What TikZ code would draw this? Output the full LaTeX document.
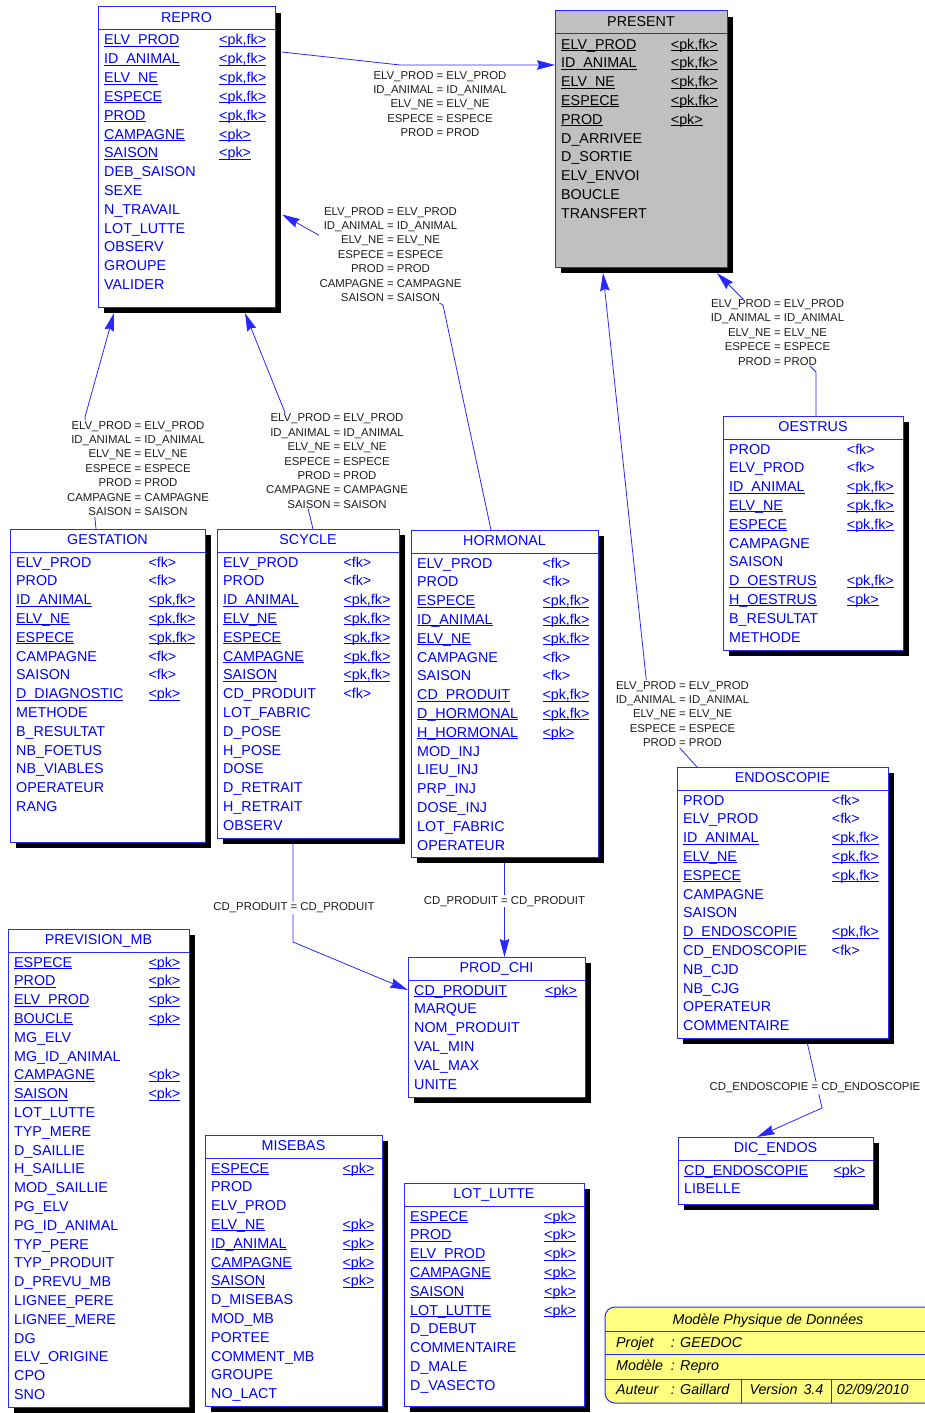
\documentclass[tikz,border=0pt]{standalone}
\usepackage{fontspec}
\setmainfont{Liberation Sans}
\usetikzlibrary{shadows,arrows.meta}

\definecolor{tblblue}{RGB}{0,0,255}
\definecolor{lineblue}{RGB}{40,40,255}
\definecolor{presentgray}{RGB}{192,192,192}
\definecolor{notefill}{RGB}{255,255,128}
\definecolor{lbltext}{RGB}{30,30,30}

\newcommand{\tblfont}{\fontsize{14.3}{18.8}\selectfont}
\newcommand{\lblfont}{\fontsize{11.4}{14.4}\selectfont}
\newcommand{\ulbox}[1]{\setbox0\hbox{#1}\rlap{\rule[-2pt]{\wd0}{1pt}}\box0}

\newcommand{\keypf}{\ulbox{<pk,fk>}}
\newcommand{\keyp}{\ulbox{<pk>}}
\newcommand{\keyf}{<fk>}
\newcommand{\keyn}{}
\newcommand{\nmpf}[1]{\ulbox{#1}}
\newcommand{\nmp}[1]{\ulbox{#1}}
\newcommand{\nmf}[1]{#1}
\newcommand{\nmn}[1]{#1}

\tikzset{
  tbl/.style={draw=lineblue, line width=1pt, fill=white, outer sep=0pt, inner sep=0pt,
    drop shadow={shadow xshift=6pt, shadow yshift=-6pt, fill=black, opacity=1}},
  row/.style={inner sep=0pt, anchor=base west, font=\tblfont, text=tblblue},
  ttl/.style={row, anchor=base},
  present/.style={tbl/.append style={fill=presentgray}, row/.append style={text=black}},
  fk/.style={draw=lineblue, line width=0.8pt, -{Stealth[length=18pt,width=9.5pt,inset=2pt]}},
  lbl/.style={fill=white, inner sep=1pt, anchor=north, align=center, font=\lblfont, text=lbltext},
  note/.style={draw=lineblue, line width=1pt, fill=notefill, rounded corners=10pt, outer sep=0pt, inner sep=0pt},
  notetxt/.style={inner sep=0pt, anchor=base west, font=\tblfont\itshape, text=black}
}

% name, x, y, width, height, key column, title, rows
\newcommand{\erbox}[9][]{%
  \begin{scope}[#1]
    \node[tbl, minimum width=#5pt, minimum height=#6pt, anchor=north west] (#2) at (#3,#4) {};
    \draw[draw=lineblue, line width=1pt] ([yshift=-23pt]#2.north west) -- ([yshift=-23pt]#2.north east);
    \node[ttl] (#2-t) at ([yshift=-15.5pt]#2.north) {#8};
    \foreach \fld/\kt [count=\i] in {#9} {
      \node[row] (#2-f\i) at ([shift={(6,{38+(\i-1)*18.8})}]#2.north west) {\csname nm\kt\endcsname{\fld}};
      \node[row] (#2-k\i) at ([shift={(#7,{38+(\i-1)*18.8})}]#2.north west) {\csname key\kt\endcsname};
    }
  \end{scope}
}

\begin{document}
\begin{tikzpicture}[x=1pt,y=-1pt]
\useasboundingbox (0,0) rectangle (924,1413);

\erbox{repro}{98}{7}{177}{300}{121}{REPRO}{ELV\_PROD/pf, ID\_ANIMAL/pf, ELV\_NE/pf, ESPECE/pf, PROD/pf, CAMPAGNE/p, SAISON/p, DEB\_SAISON/n, SEXE/n, N\_TRAVAIL/n, LOT\_LUTTE/n, OBSERV/n, GROUPE/n, VALIDER/n}
\erbox[present]{present}{555}{11}{172}{256}{115.7}{PRESENT}{ELV\_PROD/pf, ID\_ANIMAL/pf, ELV\_NE/pf, ESPECE/pf, PROD/p, D\_ARRIVEE/n, D\_SORTIE/n, ELV\_ENVOI/n, BOUCLE/n, TRANSFERT/n}
\erbox{gestation}{10}{529}{195}{313}{138.3}{GESTATION}{ELV\_PROD/f, PROD/f, ID\_ANIMAL/pf, ELV\_NE/pf, ESPECE/pf, CAMPAGNE/f, SAISON/f, D\_DIAGNOSTIC/p, METHODE/n, B\_RESULTAT/n, NB\_FOETUS/n, NB\_VIABLES/n, OPERATEUR/n, RANG/n}
\erbox{scycle}{217}{529}{182}{309}{126.3}{SCYCLE}{ELV\_PROD/f, PROD/f, ID\_ANIMAL/pf, ELV\_NE/pf, ESPECE/pf, CAMPAGNE/pf, SAISON/pf, CD\_PRODUIT/f, LOT\_FABRIC/n, D\_POSE/n, H\_POSE/n, DOSE/n, D\_RETRAIT/n, H\_RETRAIT/n, OBSERV/n}
\erbox{hormonal}{411}{530}{187}{327}{131.3}{HORMONAL}{ELV\_PROD/f, PROD/f, ESPECE/pf, ID\_ANIMAL/pf, ELV\_NE/pf, CAMPAGNE/f, SAISON/f, CD\_PRODUIT/pf, D\_HORMONAL/pf, H\_HORMONAL/p, MOD\_INJ/n, LIEU\_INJ/n, PRP\_INJ/n, DOSE\_INJ/n, LOT\_FABRIC/n, OPERATEUR/n}
\erbox{oestrus}{723}{416}{180}{234}{123.7}{OESTRUS}{PROD/f, ELV\_PROD/f, ID\_ANIMAL/pf, ELV\_NE/pf, ESPECE/pf, CAMPAGNE/n, SAISON/n, D\_OESTRUS/pf, H\_OESTRUS/p, B\_RESULTAT/n, METHODE/n}
\erbox{endoscopie}{677}{767}{211}{271}{154.7}{ENDOSCOPIE}{PROD/f, ELV\_PROD/f, ID\_ANIMAL/pf, ELV\_NE/pf, ESPECE/pf, CAMPAGNE/n, SAISON/n, D\_ENDOSCOPIE/pf, CD\_ENDOSCOPIE/f, NB\_CJD/n, NB\_CJG/n, OPERATEUR/n, COMMENTAIRE/n}
\erbox{prodchi}{408}{957}{177}{140}{137}{PROD\_CHI}{CD\_PRODUIT/p, MARQUE/n, NOM\_PRODUIT/n, VAL\_MIN/n, VAL\_MAX/n, UNITE/n}
\erbox{dicendos}{678}{1137}{195}{67}{155.3}{DIC\_ENDOS}{CD\_ENDOSCOPIE/p, LIBELLE/n}
\erbox{previsionmb}{8}{929}{181}{478}{140.3}{PREVISION\_MB}{ESPECE/p, PROD/p, ELV\_PROD/p, BOUCLE/p, MG\_ELV/n, MG\_ID\_ANIMAL/n, CAMPAGNE/p, SAISON/p, LOT\_LUTTE/n, TYP\_MERE/n, D\_SAILLIE/n, H\_SAILLIE/n, MOD\_SAILLIE/n, PG\_ELV/n, PG\_ID\_ANIMAL/n, TYP\_PERE/n, TYP\_PRODUIT/n, D\_PREVU\_MB/n, LIGNEE\_PERE/n, LIGNEE\_MERE/n, DG/n, ELV\_ORIGINE/n, CPO/n, SNO/n}
\erbox{misebas}{205}{1135}{177}{271}{137.3}{MISEBAS}{ESPECE/p, PROD/n, ELV\_PROD/n, ELV\_NE/p, ID\_ANIMAL/p, CAMPAGNE/p, SAISON/p, D\_MISEBAS/n, MOD\_MB/n, PORTEE/n, COMMENT\_MB/n, GROUPE/n, NO\_LACT/n}
\erbox{lotlutte}{404}{1183}{180}{223}{140}{LOT\_LUTTE}{ESPECE/p, PROD/p, ELV\_PROD/p, CAMPAGNE/p, SAISON/p, LOT\_LUTTE/p, D\_DEBUT/n, COMMENTAIRE/n, D\_MALE/n, D\_VASECTO/n}

\draw[fk] ([shift={(7,45)}]repro.north east) -- (400,65) -- (present.west |- 0,65);
\node[lbl] (j1) at (440,70) {ELV\_PROD = ELV\_PROD\\ID\_ANIMAL = ID\_ANIMAL\\ELV\_NE = ELV\_NE\\ESPECE = ESPECE\\PROD = PROD};

\draw[fk] (hormonal.north -| 491,0) -- (443,305) -- ([shift={(7,207.5)}]repro.north east);
\node[lbl] (j2) at (390.5,206) {ELV\_PROD = ELV\_PROD\\ID\_ANIMAL = ID\_ANIMAL\\ELV\_NE = ELV\_NE\\ESPECE = ESPECE\\PROD = PROD\\CAMPAGNE = CAMPAGNE\\SAISON = SAISON};

\draw[fk] (gestation.north -| 96,0) -- (85,417) -- ([shift={(-72.5,6)}]repro.south);
\node[lbl] (j3) at (138,420) {ELV\_PROD = ELV\_PROD\\ID\_ANIMAL = ID\_ANIMAL\\ELV\_NE = ELV\_NE\\ESPECE = ESPECE\\PROD = PROD\\CAMPAGNE = CAMPAGNE\\SAISON = SAISON};

\draw[fk] (scycle.north -| 313,0) -- (286,415) -- ([shift={(58.5,6)}]repro.south);
\node[lbl] (j4) at (337,412.7) {ELV\_PROD = ELV\_PROD\\ID\_ANIMAL = ID\_ANIMAL\\ELV\_NE = ELV\_NE\\ESPECE = ESPECE\\PROD = PROD\\CAMPAGNE = CAMPAGNE\\SAISON = SAISON};

\draw[fk] (oestrus.north -| 816,0) -- (816,372) -- ([shift={(76,6)}]present.south);
\node[lbl] (j5) at (777.5,298.3) {ELV\_PROD = ELV\_PROD\\ID\_ANIMAL = ID\_ANIMAL\\ELV\_NE = ELV\_NE\\ESPECE = ESPECE\\PROD = PROD};

\draw[fk] (endoscopie.north -| 697,0) -- (650,715) -- ([shift={(-38,6)}]present.south);
\node[lbl] (j6) at (682.5,680) {ELV\_PROD = ELV\_PROD\\ID\_ANIMAL = ID\_ANIMAL\\ELV\_NE = ELV\_NE\\ESPECE = ESPECE\\PROD = PROD};

\draw[fk] ([shift={(-15,6)}]scycle.south) -- (293,942) -- (prodchi.west |- 0,990);
\node[lbl] (j7) at (294,901.7) {CD\_PRODUIT = CD\_PRODUIT};

\draw[fk] ([shift={(0,6)}]hormonal.south) -- (prodchi.north -| hormonal.south);
\node[lbl] (j8) at (504.5,895) {CD\_PRODUIT = CD\_PRODUIT};

\draw[fk] ([shift={(25,6)}]endoscopie.south) -- (822,1108) -- (dicendos.north -| 757,0);
\node[lbl] (j9) at (815,1081.7) {CD\_ENDOSCOPIE = CD\_ENDOSCOPIE};

\node[note, minimum width=335pt, minimum height=96pt, anchor=north west] (cartouche) at (605,1307) {};
\draw[draw=lineblue, line width=1pt] ([yshift=-24.7pt]cartouche.north west) -- ([yshift=-24.7pt]cartouche.north east);
\draw[draw=lineblue, line width=1pt] ([yshift=-47.3pt]cartouche.north west) -- ([yshift=-47.3pt]cartouche.north east);
\draw[draw=lineblue, line width=1pt] ([yshift=-72.3pt]cartouche.north west) -- ([yshift=-72.3pt]cartouche.north east);
\draw[draw=lineblue, line width=1pt] (741.7,1379.3) -- (cartouche.south -| 741.7,0);
\draw[draw=lineblue, line width=1pt] (831.7,1379.3) -- (cartouche.south -| 831.7,0);
\node[notetxt, anchor=base] (mpd) at (768,1324) {Modèle Physique de Données};
\node[notetxt] (c1) at (616,1347.3) {Projet};
\node[notetxt] (c2) at (670.7,1347.3) {: GEEDOC};
\node[notetxt] (c3) at (616,1370) {Modèle};
\node[notetxt] (c4) at (670.7,1370) {: Repro};
\node[notetxt] (c5) at (616,1394) {Auteur};
\node[notetxt] (c6) at (670.7,1394) {: Gaillard};
\node[notetxt] (c7) at (749.3,1394) {Version};
\node[notetxt] (c8) at (803.3,1394) {3.4};
\node[notetxt] (c9) at (836.7,1394) {02/09/2010};
\end{tikzpicture}
\end{document}
